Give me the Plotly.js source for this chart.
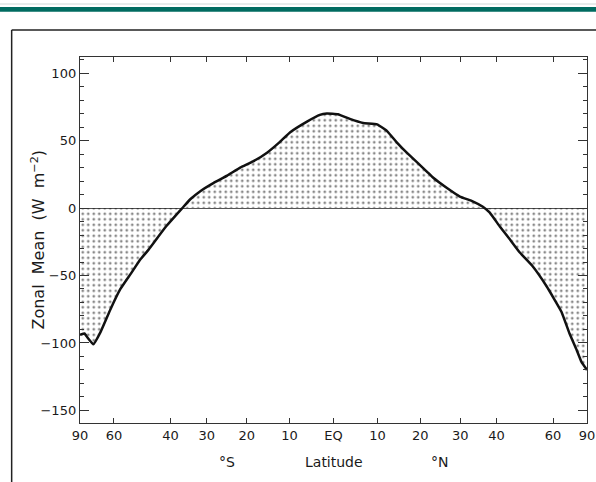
<!DOCTYPE html>
<html>
<head>
<meta charset="utf-8">
<script src="https://cdn.plot.ly/plotly-3.0.1.min.js"></script>
<style>html,body{margin:0;padding:0;background:#fff;}#chart{width:596px;height:482px;}</style>
</head>
<body>
<div id="chart"></div>
<script>
// Latitude (degrees, negative = south) and zonal-mean net radiation (W m^-2)
const latitudes = [-90,-79.2,-76,-71.3,-66.8,-61.6,-57.2,-53.2,-49.6,-46.9,-41.6,-36.6,-34.4,-31.7,-28.3,-24.8,-21.6,-18.5,-15.2,-12.2,-9.9,-6,-3.1,-1.5,1,3.7,6.7,9.9,12.2,14.5,16.8,19.2,21.6,23.1,26.5,29.9,33.3,36.1,38,41,44,47.3,51.7,57.2,64.1,68.6,73.5,78,90];
const zonalMean = [-94,-93,-96,-101,-92,-75,-60,-49,-38,-31,-14.4,0,6.5,12.5,18.5,24,30,34.5,41,49,56,64,69,70,69.5,66,63,62,57,48.5,41,34,27,22.6,15,8.5,5,1,-3.3,-13.7,-23,-33,-43,-58,-77,-93,-105,-114,-120];
const tickLatitudes = [-90,-60,-40,-30,-20,-10,0,10,20,30,40,60,90];
const tickLabels = ['90','60','40','30','20','10','EQ','10','20','30','40','60','90'];

const toX = lat => Math.sin(lat * Math.PI / 180); // area-weighted latitude axis

const font = {family: 'DejaVu Sans, sans-serif', color: '#1a1a1a'};

const trace = {
  x: latitudes.map(toX),
  y: zonalMean,
  type: 'scatter',
  mode: 'lines',
  line: {color: '#111', width: 2.5, shape: 'spline', smoothing: 0.3},
  fill: 'tozeroy',
  fillcolor: 'rgba(255,255,255,0)',
  fillpattern: {shape: '.', size: 5.5, solidity: 0.2, fgcolor: '#111', bgcolor: 'rgba(255,255,255,0)', fillmode: 'overlay'},
  hoverinfo: 'skip'
};

const layout = {
  width: 596, height: 482,
  margin: {l: 79.5, r: 8.5, t: 57, b: 59},
  paper_bgcolor: '#fff', plot_bgcolor: '#fff',
  showlegend: false,
  font: Object.assign({size: 13}, font),
  xaxis: {
    range: [-1, 1], tickvals: tickLatitudes.map(toX), ticktext: tickLabels,
    showgrid: false, zeroline: false,
    showline: true, linecolor: '#333', linewidth: 1.2, mirror: 'ticks',
    ticks: 'inside', ticklen: 5, tickcolor: '#333', tickwidth: 1,
    tickfont: Object.assign({size: 13}, font)
  },
  yaxis: {
    range: [-159.3, 111.9], tickvals: [-150,-100,-50,0,50,100],
    showgrid: false, zeroline: true, zerolinecolor: '#555', zerolinewidth: 1,
    showline: true, linecolor: '#333', linewidth: 1.2, mirror: 'ticks',
    ticks: 'inside', ticklen: 9, tickcolor: '#333', tickwidth: 1,
    tickfont: Object.assign({size: 13}, font),
    minor: {dtick: 10, ticks: 'inside', ticklen: 4, tickcolor: '#333', tickwidth: 1}
  },
  shapes: [
    {type: 'rect', xref: 'paper', yref: 'paper', x0: -0.16, x1: 1.02, y0: 1.1235, y1: 1.1366, fillcolor: '#006b60', line: {width: 0}},
    {type: 'line', xref: 'paper', yref: 'paper', x0: -0.16, x1: 1.02, y0: 1.1448, y1: 1.1448, line: {color: '#cfd8d6', width: 1}},
    {type: 'line', xref: 'paper', yref: 'paper', x0: -0.1348, x1: 1.02, y0: 1.0738, y1: 1.0738, line: {color: '#222', width: 1.5}},
    {type: 'line', xref: 'paper', yref: 'paper', x0: -0.1348, x1: -0.1348, y0: 1.0738, y1: -0.17, line: {color: '#222', width: 1.5}}
  ],
  annotations: [
    {text: 'Zonal  Mean  (W  m<sup>−2</sup>)', xref: 'paper', yref: 'paper', x: -0.0837, y: 0.5, xanchor: 'center', yanchor: 'middle', textangle: -90, showarrow: false, font: Object.assign({size: 16}, font)},
    {text: '°S', xref: 'paper', yref: 'paper', x: 0.290, y: -0.1066, xanchor: 'center', yanchor: 'middle', showarrow: false, font: Object.assign({size: 14}, font)},
    {text: 'Latitude', xref: 'paper', yref: 'paper', x: 0.5005, y: -0.1066, xanchor: 'center', yanchor: 'middle', showarrow: false, font: Object.assign({size: 14}, font)},
    {text: '°N', xref: 'paper', yref: 'paper', x: 0.710, y: -0.1066, xanchor: 'center', yanchor: 'middle', showarrow: false, font: Object.assign({size: 14}, font)}
  ]
};

Plotly.newPlot('chart', [trace], layout, {displayModeBar: false, staticPlot: true});
</script>
</body>
</html>
